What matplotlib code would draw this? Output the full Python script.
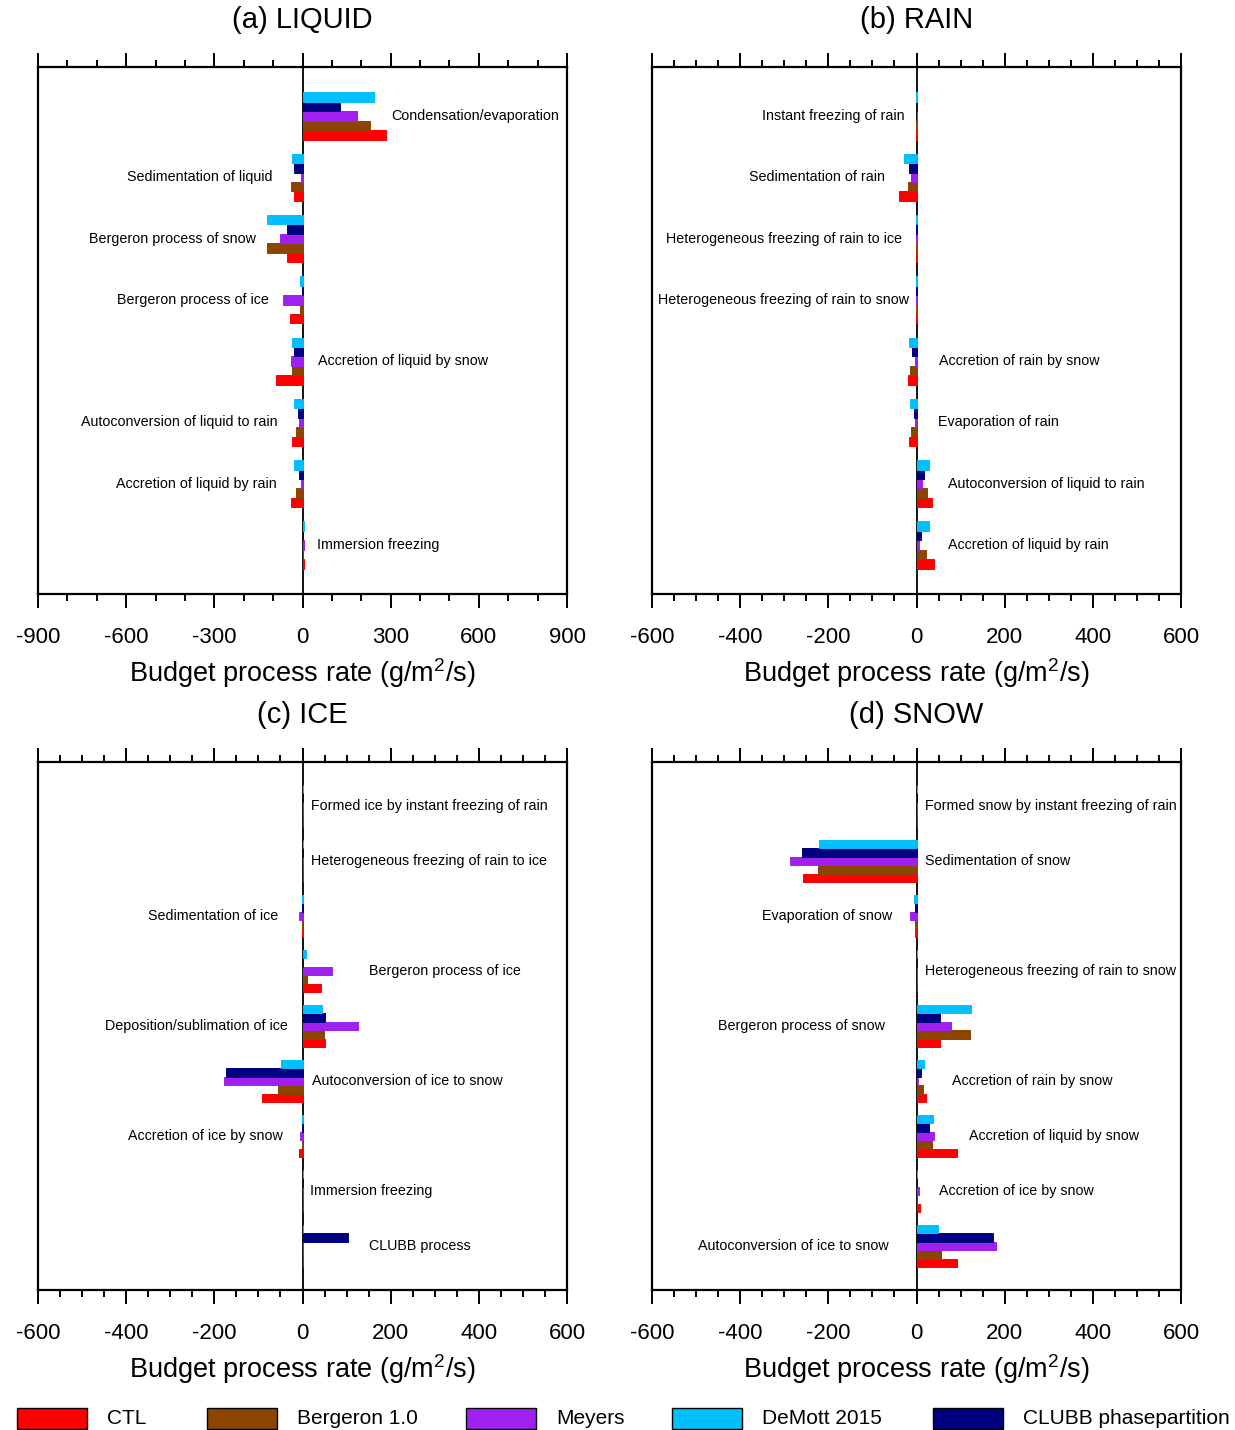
import numpy as np
import matplotlib
matplotlib.use('Agg')
import matplotlib.pyplot as plt
from matplotlib.patches import Rectangle
from matplotlib.ticker import MultipleLocator

plt.rcParams['font.family'] = ['Liberation Sans', 'DejaVu Sans']
plt.rcParams['mathtext.fontset'] = 'custom'
plt.rcParams['mathtext.rm'] = 'Liberation Sans'
plt.rcParams['mathtext.it'] = 'Liberation Sans:italic'
plt.rcParams['axes.unicode_minus'] = False

#-----------------------------------
#            data
#-----------------------------------
series_names = ['CTL', 'Bergeron 1.0', 'Meyers', 'DeMott 2015', 'CLUBB phasepartition']
series_colors = ['#ff0000', '#8b4500', '#a020f0', '#00bfff', '#000080']

# (a) liquid
liq_procs = ['Condensation/evaporation', 'Sedimentation of liquid', 'Bergeron process of snow',
             'Bergeron process of ice', 'Accretion of liquid by snow', 'Autoconversion of liquid to rain',
             'Accretion of liquid by rain', 'Immersion freezing']
liq_ctl    = [285, -28, -52, -43, -90, -35, -39, 4]
liq_berg   = [230, -40, -121, -10, -35, -23, -22, 3]
liq_meyers = [185, -4, -77, -67, -39, -12, -5, 4]
liq_demott = [244, -37, -122, -7, -37, -28, -28, 4]
liq_clubb  = [127, -28, -52, -2, -28, -17, -11, 3]
liq_label_x = [301, -101, -160, -113, 52, -85, -89, 48]

# (b) rain
rain_procs = ['Instant freezing of rain', 'Sedimentation of rain', 'Heterogeneous freezing of rain to ice',
              'Heterogeneous freezing of rain to snow', 'Accretion of rain by snow', 'Evaporation of rain',
              'Autoconversion of liquid to rain', 'Accretion of liquid by rain']
rain_ctl    = [-1.5, -39, -2, -1.5, -20, -16, 36, 39]
rain_berg   = [-1, -20, -1, -1, -14, -12, 24, 22]
rain_meyers = [0, -12, -1, -1.5, -2.5, -2.5, 12, 5]
rain_demott = [-1, -28, -1, -1, -18, -14, 28, 28]
rain_clubb  = [0, -16, -1, -1, -10, -5, 18, 11]
rain_label_x = [-28, -71, -33, -18, 50, 49, 71, 71]

# (c) ice
ice_procs = ['Formed ice by instant freezing of rain', 'Heterogeneous freezing of rain to ice',
             'Sedimentation of ice', 'Bergeron process of ice', 'Deposition/sublimation of ice',
             'Autoconversion of ice to snow', 'Accretion of ice by snow', 'Immersion freezing',
             'CLUBB process']
ice_ctl    = [1.5, 2, -1, 43, 52, -92, -8, 1.5, 1]
ice_berg   = [1, 1, -1, 10, 49, -55, -2, 1.5, 1]
ice_meyers = [0, 1.5, -8, 67, 125, -179, -5, 2, 1]
ice_demott = [1, 1, -1, 8, 45, -48, -1, 1.5, 1]
ice_clubb  = [0, 1, -0.5, 2, 52, -173, -1.5, 1, 103]
ice_label_x = [19.5, 19.5, -54, 150, -33, 22, -45, 18, 150]

# (d) snow
snow_procs = ['Formed snow by instant freezing of rain', 'Sedimentation of snow', 'Evaporation of snow',
              'Heterogeneous freezing of rain to snow', 'Bergeron process of snow', 'Accretion of rain by snow',
              'Accretion of liquid by snow', 'Accretion of ice by snow', 'Autoconversion of ice to snow']
snow_ctl    = [1, -257, -4, 1.5, 53, 21, 91, 8, 93]
snow_berg   = [0, -223, -4, 1, 122, 15, 36, 2, 55]
snow_meyers = [0, -286, -15, 1.5, 78, 2.5, 39, 5, 180]
snow_demott = [1, -221, -5, 1, 123, 18, 37, 1.5, 48]
snow_clubb  = [0, -260, -3, 1, 54, 10, 28, 1.5, 174]
snow_label_x = [19, 19.5, -55, 19, -71, 81, 120, 50, -63]


def draw_panel(ax, procs, ctl, berg, meyers, demott, clubb, label_x, lim, major, minor, title):
    n = len(procs)
    y = np.arange(n)
    h = 0.77 / 5
    # odspodu: CTL, Bergeron, Meyers, CLUBB, DeMott
    stack = [(ctl, series_colors[0]), (berg, series_colors[1]), (meyers, series_colors[2]),
             (clubb, series_colors[4]), (demott, series_colors[3])]
    for k, (vals, col) in enumerate(stack):
        ax.barh(y + (2 - k) * h, vals, height=h, color=col, edgecolor=col, linewidth=0.7, zorder=2)
    ax.axvline(0, color='k', lw=1.3, zorder=1)
    ax.set_ylim(n - 1 + 0.8, -0.8)
    ax.set_xlim(-lim, lim)
    ax.xaxis.set_major_locator(MultipleLocator(major))
    ax.xaxis.set_minor_locator(MultipleLocator(minor))
    ax.set_yticks([])
    ax.tick_params(axis='x', which='both', direction='out', top=True, bottom=True, width=1.4)
    ax.tick_params(axis='x', which='major', length=10, labelsize=16, pad=14)
    ax.tick_params(axis='x', which='minor', length=5)
    for s in ax.spines.values():
        s.set_linewidth(1.6)
    for i, (p, lx) in enumerate(zip(procs, label_x)):
        ax.text(lx, i, p, ha='left' if lx > 0 else 'right', va='center', fontsize=10.3)
    ax.set_xlabel('Budget process rate (g/m$^2$/s)', fontsize=19.5, labelpad=6)
    ax.text(0.5, 1 + 47 / 527, title, transform=ax.transAxes, ha='center', va='center', fontsize=21)


fig = plt.figure(figsize=(12.35, 14.3), dpi=100)
W, H = 1235, 1430
ax_a = fig.add_axes([38 / W, 1 - 594 / H, 529 / W, 527 / H])
ax_b = fig.add_axes([652 / W, 1 - 594 / H, 529 / W, 527 / H])
ax_c = fig.add_axes([38 / W, 1 - 1290 / H, 529 / W, 528 / H])
ax_d = fig.add_axes([652 / W, 1 - 1290 / H, 529 / W, 528 / H])

draw_panel(ax_a, liq_procs, liq_ctl, liq_berg, liq_meyers, liq_demott, liq_clubb,
           liq_label_x, 900, 300, 100, '(a) LIQUID')
draw_panel(ax_b, rain_procs, rain_ctl, rain_berg, rain_meyers, rain_demott, rain_clubb,
           rain_label_x, 600, 200, 50, '(b) RAIN')
draw_panel(ax_c, ice_procs, ice_ctl, ice_berg, ice_meyers, ice_demott, ice_clubb,
           ice_label_x, 600, 200, 50, '(c) ICE')
draw_panel(ax_d, snow_procs, snow_ctl, snow_berg, snow_meyers, snow_demott, snow_clubb,
           snow_label_x, 600, 200, 50, '(d) SNOW')

# legenda - rucne, polohy v pixelech
box_x = [17, 207, 466, 672, 933]
for bx, c, name in zip(box_x, series_colors, series_names):
    fig.add_artist(Rectangle((bx / W, 1 - 1429 / H), 70 / W, 21 / H, transform=fig.transFigure,
                             facecolor=c, edgecolor='k', linewidth=1.0))
    fig.text((bx + 90) / W, 1 - 1419 / H, name, ha='left', va='center', fontsize=15)

fig.savefig('out.png', dpi=100)
